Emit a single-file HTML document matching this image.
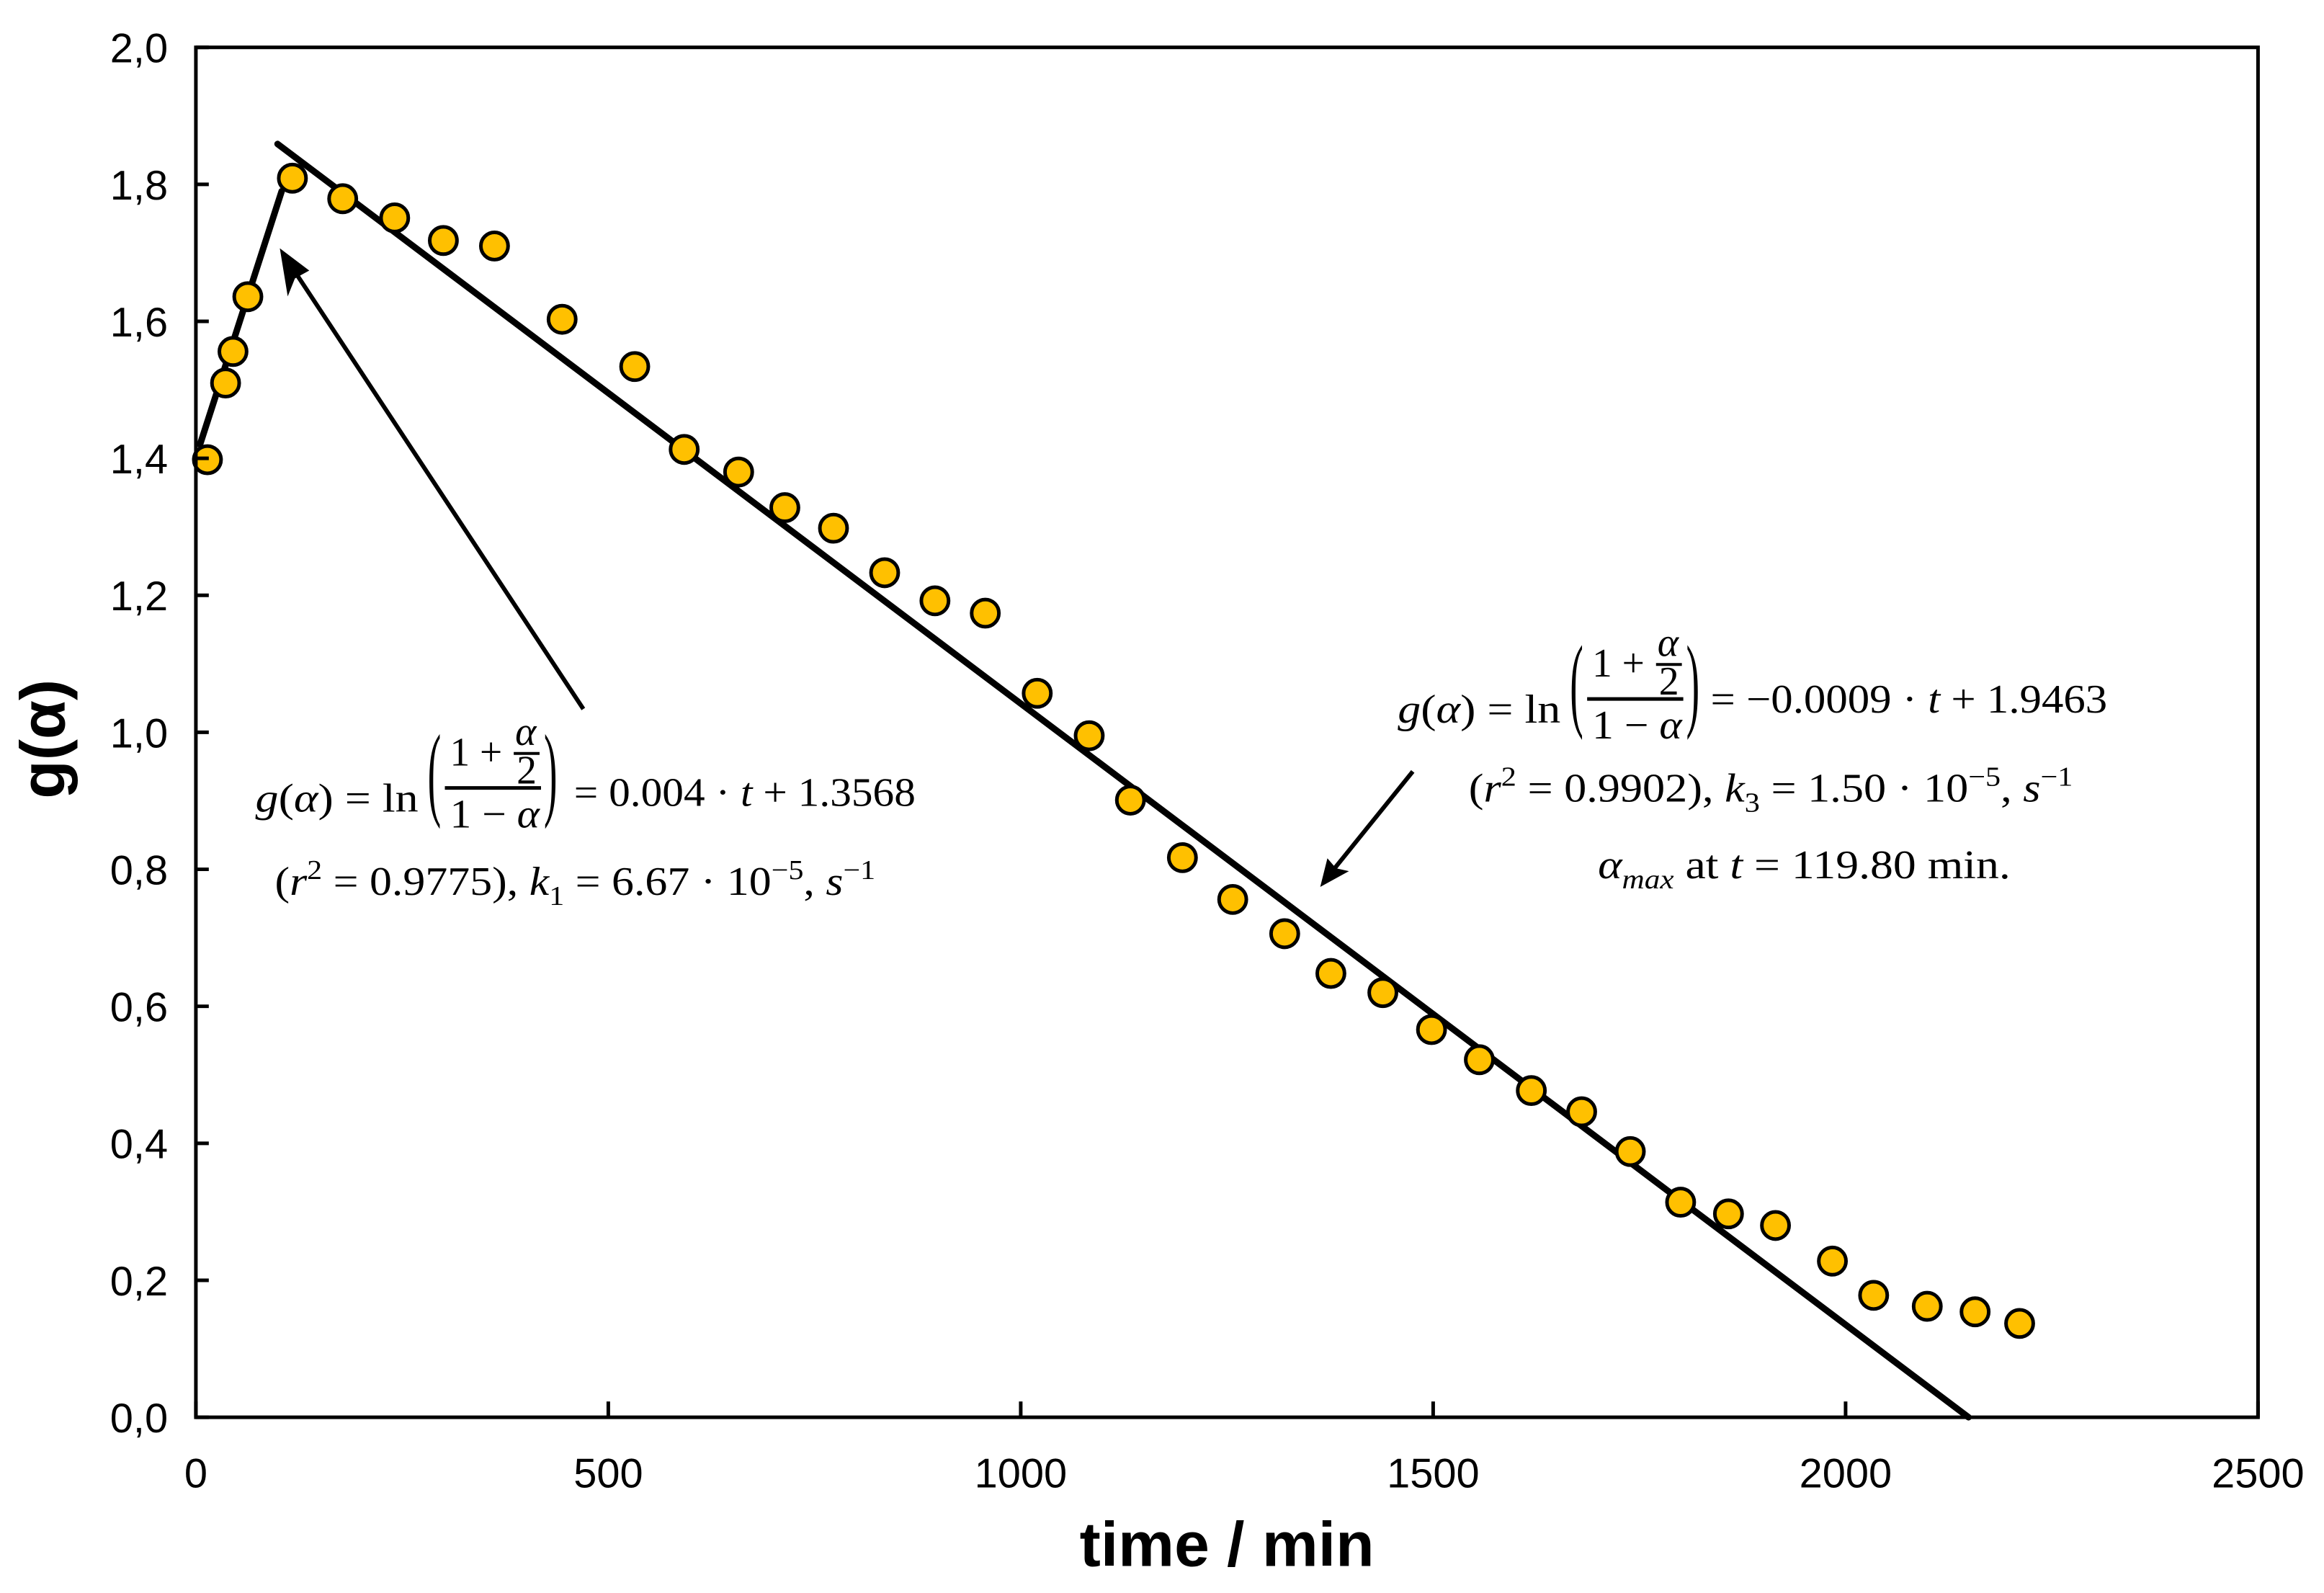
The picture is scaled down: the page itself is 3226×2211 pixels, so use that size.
<!DOCTYPE html>
<html><head><meta charset="utf-8">
<style>
html,body{margin:0;padding:0;background:#fff;}
svg{display:block;}
.tick{font-family:"Liberation Sans",sans-serif;font-size:58px;fill:#000;}
.ttl{font-family:"Liberation Sans",sans-serif;font-size:88px;font-weight:bold;fill:#000;}
.eq{font-family:"Liberation Serif",serif;font-size:56px;fill:#000;}
.it{font-style:italic;}
</style></head>
<body>
<svg id="chart" width="3226" height="2211" viewBox="0 0 3226 2211" xmlns="http://www.w3.org/2000/svg">
<rect width="3226" height="2211" fill="#fff"/>
<g transform="scale(0.996)">
<g id="marks"></g>
<g id="axes"></g>
<!-- arrows -->
<line x1="813" y1="988" x2="400" y2="362" stroke="#000" stroke-width="6"/>
<polygon points="390,346 431,377 411,388 401,413" fill="#000"/>
<line x1="1969" y1="1075" x2="1852" y2="1220" stroke="#000" stroke-width="6"/>
<polygon points="1840,1236 1850,1196 1862,1210 1880,1214" fill="#000"/>

<!-- left equation -->
<g>
<text class="eq" x="356" y="1131" textLength="227" lengthAdjust="spacingAndGlyphs"><tspan class="it">g</tspan>(<tspan class="it">α</tspan>) = ln</text>
<text class="eq" transform="translate(596,1124) scale(1,2.6)">(</text>
<text class="eq" x="627" y="1067" textLength="73" lengthAdjust="spacingAndGlyphs">1 +</text>
<text class="eq it" x="718" y="1038" font-size="48">α</text>
<line x1="716" y1="1050" x2="752" y2="1050" stroke="#000" stroke-width="4"/>
<text class="eq" x="720" y="1092" font-size="50">2</text>
<line x1="620" y1="1098" x2="754" y2="1098" stroke="#000" stroke-width="5"/>
<text class="eq" x="627" y="1153" textLength="125" lengthAdjust="spacingAndGlyphs">1 − <tspan class="it">α</tspan></text>
<text class="eq" transform="translate(758,1124) scale(1,2.6)">)</text>
<text class="eq" x="800" y="1123" textLength="476" lengthAdjust="spacingAndGlyphs">= 0.004 · <tspan class="it">t</tspan> + 1.3568</text>
<text class="eq" x="383" y="1247" textLength="837" lengthAdjust="spacingAndGlyphs">(<tspan class="it">r</tspan><tspan font-size="38" dy="-22">2</tspan><tspan dy="22"> = 0.9775), </tspan><tspan class="it">k</tspan><tspan font-size="38" dy="14">1</tspan><tspan dy="-14"> = 6.67 · 10</tspan><tspan font-size="38" dy="-22">−5</tspan><tspan dy="22">, </tspan><tspan class="it">s</tspan><tspan font-size="38" dy="-22">−1</tspan></text>
</g>

<!-- right equation -->
<g>
<text class="eq" x="1948" y="1007" textLength="227" lengthAdjust="spacingAndGlyphs"><tspan class="it">g</tspan>(<tspan class="it">α</tspan>) = ln</text>
<text class="eq" transform="translate(2188,1000) scale(1,2.6)">(</text>
<text class="eq" x="2219" y="943" textLength="73" lengthAdjust="spacingAndGlyphs">1 +</text>
<text class="eq it" x="2310" y="914" font-size="48">α</text>
<line x1="2308" y1="926" x2="2344" y2="926" stroke="#000" stroke-width="4"/>
<text class="eq" x="2312" y="968" font-size="50">2</text>
<line x1="2212" y1="974" x2="2346" y2="974" stroke="#000" stroke-width="5"/>
<text class="eq" x="2219" y="1029" textLength="125" lengthAdjust="spacingAndGlyphs">1 − <tspan class="it">α</tspan></text>
<text class="eq" transform="translate(2350,1000) scale(1,2.6)">)</text>
<text class="eq" x="2384" y="993" textLength="553" lengthAdjust="spacingAndGlyphs">= −0.0009 · <tspan class="it">t</tspan> + 1.9463</text>
<text class="eq" x="2047" y="1117" textLength="842" lengthAdjust="spacingAndGlyphs">(<tspan class="it">r</tspan><tspan font-size="38" dy="-22">2</tspan><tspan dy="22"> = 0.9902), </tspan><tspan class="it">k</tspan><tspan font-size="38" dy="14">3</tspan><tspan dy="-14"> = 1.50 · 10</tspan><tspan font-size="38" dy="-22">−5</tspan><tspan dy="22">, </tspan><tspan class="it">s</tspan><tspan font-size="38" dy="-22">−1</tspan></text>
<text class="eq" x="2227" y="1224" textLength="575" lengthAdjust="spacingAndGlyphs"><tspan class="it">α</tspan><tspan class="it" font-size="38" dy="14">max</tspan><tspan dy="-14"> at </tspan><tspan class="it">t</tspan> = 119.80 min.</text>
</g>
</g>
</svg>
<script>
const xVals=[14,36,45,63,117,178,241,300,362,444,532,592,658,714,773,835,896,957,1020,1083,1133,1196,1257,1320,1376,1439,1498,1556,1619,1680,1739,1800,1858,1915,1984,2034,2099,2157,2211];
const yVals=[1.398,1.51,1.556,1.636,1.809,1.779,1.751,1.718,1.71,1.603,1.534,1.413,1.38,1.328,1.298,1.233,1.192,1.174,1.057,0.995,0.901,0.817,0.756,0.706,0.648,0.62,0.566,0.522,0.477,0.446,0.388,0.314,0.297,0.28,0.228,0.178,0.162,0.154,0.137];
const fit1X=[5,104];
const fit1Y=[1.42,1.79];
const fit2X=[99,2149];
const fit2Y=[1.859,0];
const xTicks=[0,500,1000,1500,2000,2500];
const yTicks=[0,0.2,0.4,0.6,0.8,1.0,1.2,1.4,1.6,1.8,2.0];
const L=273,R=3147,T=66,B=1975;
function sx(v){return L+(v/2500)*(R-L);}
function sy(v){return B-(v/2)*(B-T);}
const NS="http://www.w3.org/2000/svg";
const marks=document.getElementById('marks');
const axes=document.getElementById('axes');
function mk(tag,attrs,parent){const e=document.createElementNS(NS,tag);for(const k in attrs)e.setAttribute(k,attrs[k]);parent.appendChild(e);return e;}
const fr=mk('rect',{x:L,y:T,width:R-L,height:B-T,fill:'none',stroke:'#000','stroke-width':5},axes);


yTicks.forEach(v=>{
  const t=mk('line',{x1:L,x2:L+18,y1:sy(v),y2:sy(v),stroke:'#000','stroke-width':5},axes);
  
  
  const tx=mk('text',{x:234,y:sy(v)+21,'text-anchor':'end','class':'tick'},axes);
  tx.textContent=v.toFixed(1).replace('.',',');
  
  
});
xTicks.forEach(v=>{
  const t=mk('line',{x1:sx(v),x2:sx(v),y1:B,y2:B-22,stroke:'#000','stroke-width':5},axes);
  
  
  const tx=mk('text',{x:sx(v),y:2073,'text-anchor':'middle','class':'tick'},axes);
  tx.textContent=String(v);
  
  
});
const xt=mk('text',{x:1710,y:2182,'text-anchor':'middle','class':'ttl'},axes);
xt.textContent='time / min';


const yt=mk('text',{x:0,y:0,'text-anchor':'middle','class':'ttl',transform:'translate(90,1030) rotate(-90)'},axes);
yt.textContent='g(α)';


const l1=mk('line',{x1:sx(fit1X[0]),y1:sy(fit1Y[0]),x2:sx(fit1X[1]),y2:sy(fit1Y[1]),stroke:'#000','stroke-width':9,'stroke-linecap':'round'},marks);


const l2=mk('line',{x1:sx(fit2X[0]),y1:sy(fit2Y[0]),x2:sx(fit2X[1]),y2:sy(fit2Y[1]),stroke:'#000','stroke-width':9,'stroke-linecap':'round'},marks);


xVals.forEach((x,i)=>{
  const c=mk('circle',{cx:sx(x),cy:sy(yVals[i]),r:19,fill:'#FFC000',stroke:'#000','stroke-width':5},marks);
  
  
});
</script>
</body></html>
